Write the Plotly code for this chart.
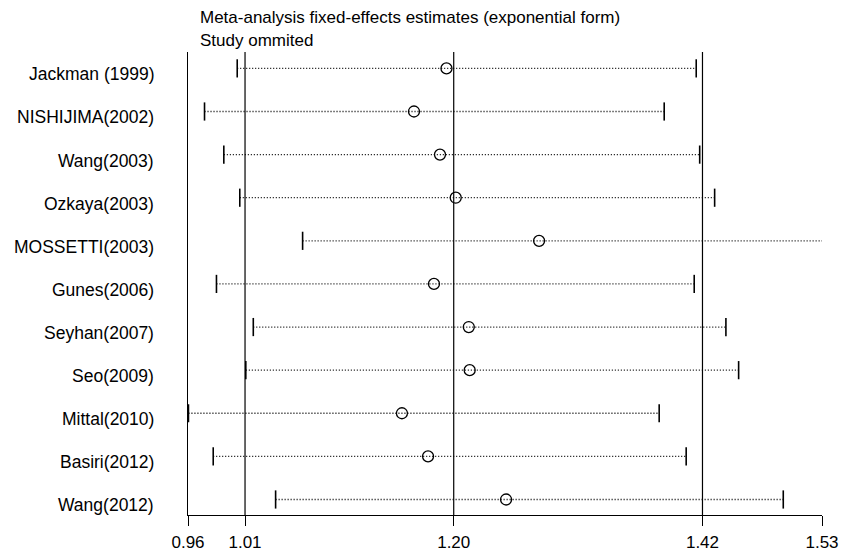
import plotly.graph_objects as go

studies = ["Jackman (1999)", "NISHIJIMA(2002)", "Wang(2003)", "Ozkaya(2003)",
           "MOSSETTI(2003)", "Gunes(2006)", "Seyhan(2007)", "Seo(2009)",
           "Mittal(2010)", "Basiri(2012)", "Wang(2012)"]
estimate = [1.1915, 1.1624, 1.1857, 1.1998, 1.2745, 1.1803, 1.2115, 1.2123, 1.1516, 1.1750, 1.2449]
lower = [1.0040, 0.9747, 0.9920, 1.0063, 1.0626, 0.9854, 1.0184, 1.0117, 0.9603, 0.9825, 1.0384]
upper = [1.4153, 1.3866, 1.4184, 1.4318, 1.5289, 1.4135, 1.4419, 1.4533, 1.3821, 1.4063, 1.4933]

overall = [1.011, 1.198, 1.4209]          # lower CI, estimate, upper CI
tick_vals = [0.9599, 1.011, 1.198, 1.4209, 1.528]
tick_text = ["0.96", "1.01", "1.20", "1.42", "1.53"]

rows = list(range(1, len(studies) + 1))

FONT = "Liberation Sans, Arial, sans-serif"

fig = go.Figure()

# dotted CI lines
lx, ly = [], []
for lo, hi, r in zip(lower, upper, rows):
    lx += [lo, hi, None]
    ly += [r, r, None]
fig.add_trace(go.Scatter(x=lx, y=ly, mode="lines",
                         line=dict(color="black", width=1.3, dash="1px,2px"),
                         hoverinfo="skip", showlegend=False))

# end caps
fig.add_trace(go.Scatter(x=lower + upper, y=rows + rows, mode="markers",
                         marker=dict(symbol="line-ns", size=13,
                                     line=dict(color="black", width=1.6)),
                         hoverinfo="skip", showlegend=False))

# estimates
fig.add_trace(go.Scatter(x=estimate, y=rows, mode="markers",
                         marker=dict(symbol="circle-open", size=11, color="black",
                                     line=dict(color="black", width=1.3)),
                         showlegend=False))

for v in overall:
    fig.add_shape(type="line", xref="x", yref="paper", x0=v, x1=v, y0=0, y1=1,
                  line=dict(color="black", width=1.2))

for s, r in zip(studies, rows):
    fig.add_annotation(text=s, xref="paper", yref="y", x=0, y=r,
                       xanchor="right", yanchor="middle", xshift=-32, yshift=-6,
                       showarrow=False, font=dict(family=FONT, size=17.5, color="black"))

fig.add_annotation(text="Meta-analysis fixed-effects estimates (exponential form)",
                   xref="paper", yref="paper", x=(198 - 188) / 634, y=(515 - 17) / 463,
                   xanchor="left", yanchor="middle", showarrow=False,
                   font=dict(family=FONT, size=17, color="black"))
fig.add_annotation(text="Study ommited",
                   xref="paper", yref="paper", x=(198 - 188) / 634, y=(515 - 41) / 463,
                   xanchor="left", yanchor="middle", showarrow=False,
                   font=dict(family=FONT, size=17, color="black"))

fig.update_layout(
    width=850, height=543,
    margin=dict(l=180, r=36, t=44, b=36, autoexpand=False),
    plot_bgcolor="white", paper_bgcolor="white",
    font=dict(family=FONT, color="black"),
    xaxis=dict(range=[0.9599, 1.528], tickvals=tick_vals, ticktext=tick_text,
               showgrid=False, zeroline=False, showline=True, linecolor="black",
               linewidth=1.2, ticks="outside", ticklen=10, tickwidth=1.2,
               tickcolor="black", ticklabelstandoff=1, automargin=False,
               tickfont=dict(family=FONT, size=17, color="black")),
    yaxis=dict(range=[11.36, 0.62], showgrid=False, zeroline=False,
               showline=True, linecolor="black", linewidth=1.2, automargin=False,
               showticklabels=False, ticks=""),
)

fig.write_html("out.html")
